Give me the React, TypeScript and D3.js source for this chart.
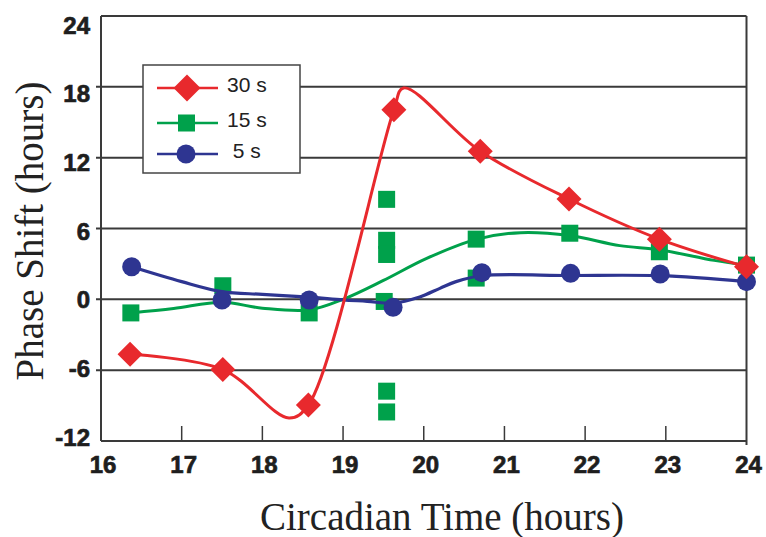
import React from 'react';
import * as d3 from 'd3';

// 30 s pulses (red diamonds)
const redX = [16.36, 17.51, 18.57, 19.63, 20.7, 21.8, 22.92, 24.0];
const redY = [-4.65, -5.95, -8.95, 16.05, 12.55, 8.5, 5.1, 2.75];
// red smoothed line (diamonds plus the dip and the peak)
const redLineX = [16.36, 17.51, 18.33, 18.57, 19.63, 19.75, 20.7, 21.8, 22.92, 24.0];
const redLineY = [-4.65, -5.95, -10.05, -8.95, 16.05, 17.9, 12.55, 8.5, 5.1, 2.75];

// 15 s pulses (green squares)
const greenX = [16.37, 17.51, 18.58, 19.54, 19.54, 19.54, 19.51, 19.54, 19.54, 20.65, 20.65, 21.81, 22.92, 24.0];
const greenY = [-1.15, 1.15, -1.15, 8.47, 5.0, 3.8, -0.18, -7.78, -9.54, 5.1, 1.8, 5.6, 4.03, 2.9];
// green trend line
const greenLineX = [16.37, 16.9, 17.5, 18.0, 18.58, 19.0, 19.5, 20.03, 20.65, 21.2, 21.81, 22.43, 22.92, 23.6, 24.0];
const greenLineY = [-1.15, -0.78, -0.25, -0.75, -0.9, 0.0, 1.6, 3.45, 5.08, 5.65, 5.4, 4.55, 4.2, 3.3, 2.9];

// 5 s pulses (blue circles)
const blueX = [16.38, 17.5, 18.58, 19.62, 20.72, 21.82, 22.93, 24.0];
const blueY = [2.76, -0.06, -0.05, -0.68, 2.26, 2.2, 2.15, 1.5];
// blue trend line
const blueLineX = [16.38, 17.0, 17.5, 18.0, 18.58, 19.0, 19.3, 19.62, 19.95, 20.2, 20.4, 20.72, 21.82, 22.93, 24.0];
const blueLineY = [2.76, 1.5, 0.65, 0.42, 0.18, -0.05, -0.17, -0.32, 0.2, 0.93, 1.5, 2.0, 2.02, 2.0, 1.5];

const xTicks = [16, 17, 18, 19, 20, 21, 22, 23, 24];
const yTicks = [-12, -6, 0, 6, 12, 18, 24];
const legendLabels = ['30 s', '15 s', ' 5 s'];

const RED = '#e8292d';
const GREEN = '#00a14b';
const BLUE = '#2e3591';
const AXIS = '#3a3a3a';

const W = 766;
const H = 537;

const zip = (xs: number[], ys: number[]) => xs.map((x, i) => [x, ys[i]] as [number, number]);

function diamond(cx: number, cy: number, r: number) {
  return `M${cx},${cy - r}L${cx + r},${cy}L${cx},${cy + r}L${cx - r},${cy}Z`;
}

export default function App() {
  const x = d3.scaleLinear().domain([16, 24]).range([101, 746.5]);
  const y = d3.scaleLinear().domain([-12, 24]).range([441, 16]);
  // tick labels in the scan sit on a slightly tighter spacing than the grid
  const yLab = d3.scaleLinear().domain([-12, 24]).range([437, 25]);

  const trend = d3
    .line<[number, number]>()
    .x((d) => x(d[0]))
    .y((d) => y(d[1]))
    .curve(d3.curveCatmullRom.alpha(0.5));

  const red = zip(redX, redY);
  const green = zip(greenX, greenY);
  const blue = zip(blueX, blueY);

  const [x0, x1] = x.range();

  const legendRows = [
    { label: legendLabels[0], color: RED, kind: 'diamond' },
    { label: legendLabels[1], color: GREEN, kind: 'square' },
    { label: legendLabels[2], color: BLUE, kind: 'circle' },
  ];
  const legendY = [88, 123, 154];

  const tickFont = {
    fontFamily: "'Liberation Sans', Arial, sans-serif",
    fontWeight: 'bold' as const,
    fontSize: 24,
    fill: '#1e1e1e',
    stroke: '#1e1e1e',
    strokeWidth: 0.7,
  };

  return (
    <svg
      width={W}
      height={H}
      style={{ position: 'absolute', left: 0, top: 0, background: '#fff' }}
    >
      {/* grid lines + frame */}
      {yTicks.map((t) => (
        <line key={'g' + t} x1={t === 24 || t === -12 ? x0 : x0 - 5} x2={x1} y1={y(t)} y2={y(t)} stroke={AXIS} strokeWidth={2} />
      ))}
      <line x1={x0} x2={x0} y1={y(24)} y2={y(-12)} stroke={AXIS} strokeWidth={2} />
      <line x1={x1} x2={x1} y1={y(24)} y2={y(-12) + 4} stroke={AXIS} strokeWidth={2} />
      {xTicks.slice(1, -1).map((t) => (
        <line key={'t' + t} x1={x(t)} x2={x(t)} y1={y(-12)} y2={y(-12) - 15} stroke={AXIS} strokeWidth={1.5} />
      ))}

      {/* y tick labels */}
      {yTicks.map((t) => (
        <text key={'yl' + t} x={90} y={yLab(t)} dy="0.36em" textAnchor="end" {...tickFont}>
          {t}
        </text>
      ))}
      {/* x tick labels */}
      {xTicks.map((t) => (
        <text key={'xl' + t} x={x(t) + 2} y={473} textAnchor="middle" {...tickFont}>
          {t}
        </text>
      ))}

      {/* axis titles */}
      <text x={442} y={530} textAnchor="middle" fontFamily="'Liberation Serif', 'Times New Roman', serif" fontSize={39} fill="#222">
        Circadian Time (hours)
      </text>
      <text
        transform="translate(43,231) rotate(-90)"
        textAnchor="middle"
        fontFamily="'Liberation Serif', 'Times New Roman', serif"
        fontSize={39}
        fill="#222"
      >
        Phase Shift (hours)
      </text>

      {/* 15 s */}
      <path d={trend(zip(greenLineX, greenLineY)) || ''} fill="none" stroke={GREEN} strokeWidth={3} />
      {green.map((d, i) => (
        <rect key={'gs' + i} x={x(d[0]) - 8.5} y={y(d[1]) - 8.5} width={17} height={17} fill={GREEN} />
      ))}

      {/* 5 s */}
      <path d={trend(zip(blueLineX, blueLineY)) || ''} fill="none" stroke={BLUE} strokeWidth={3.2} />
      {blue.map((d, i) => (
        <circle key={'bc' + i} cx={x(d[0])} cy={y(d[1])} r={9.5} fill={BLUE} />
      ))}

      {/* 30 s */}
      <path d={trend(zip(redLineX, redLineY)) || ''} fill="none" stroke={RED} strokeWidth={3} strokeLinejoin="round" />
      {red.map((d, i) => (
        <path key={'rd' + i} d={diamond(x(d[0]), y(d[1]), 12.5)} fill={RED} />
      ))}

      {/* legend */}
      <rect x={143} y={65} width={157} height={108} fill="#fff" stroke="#444" strokeWidth={1.5} />
      {legendRows.map((r, i) => {
        const ly = legendY[i];
        return (
          <g key={'lg' + i}>
            <line x1={157} x2={218} y1={ly} y2={ly} stroke={r.color} strokeWidth={2.5} />
            {r.kind === 'diamond' && <path d={diamond(187, ly, 13.5)} fill={r.color} />}
            {r.kind === 'square' && <rect x={178} y={ly - 8.5} width={17} height={17} fill={r.color} />}
            {r.kind === 'circle' && <circle cx={186} cy={ly} r={9.5} fill={r.color} />}
            <text
              x={227}
              y={ly + 4}
              fontFamily="'Liberation Sans', Arial, sans-serif"
              fontSize={21}
              fill="#222"
              style={{ whiteSpace: 'pre' }}
            >
              {r.label}
            </text>
          </g>
        );
      })}
    </svg>
  );
}
